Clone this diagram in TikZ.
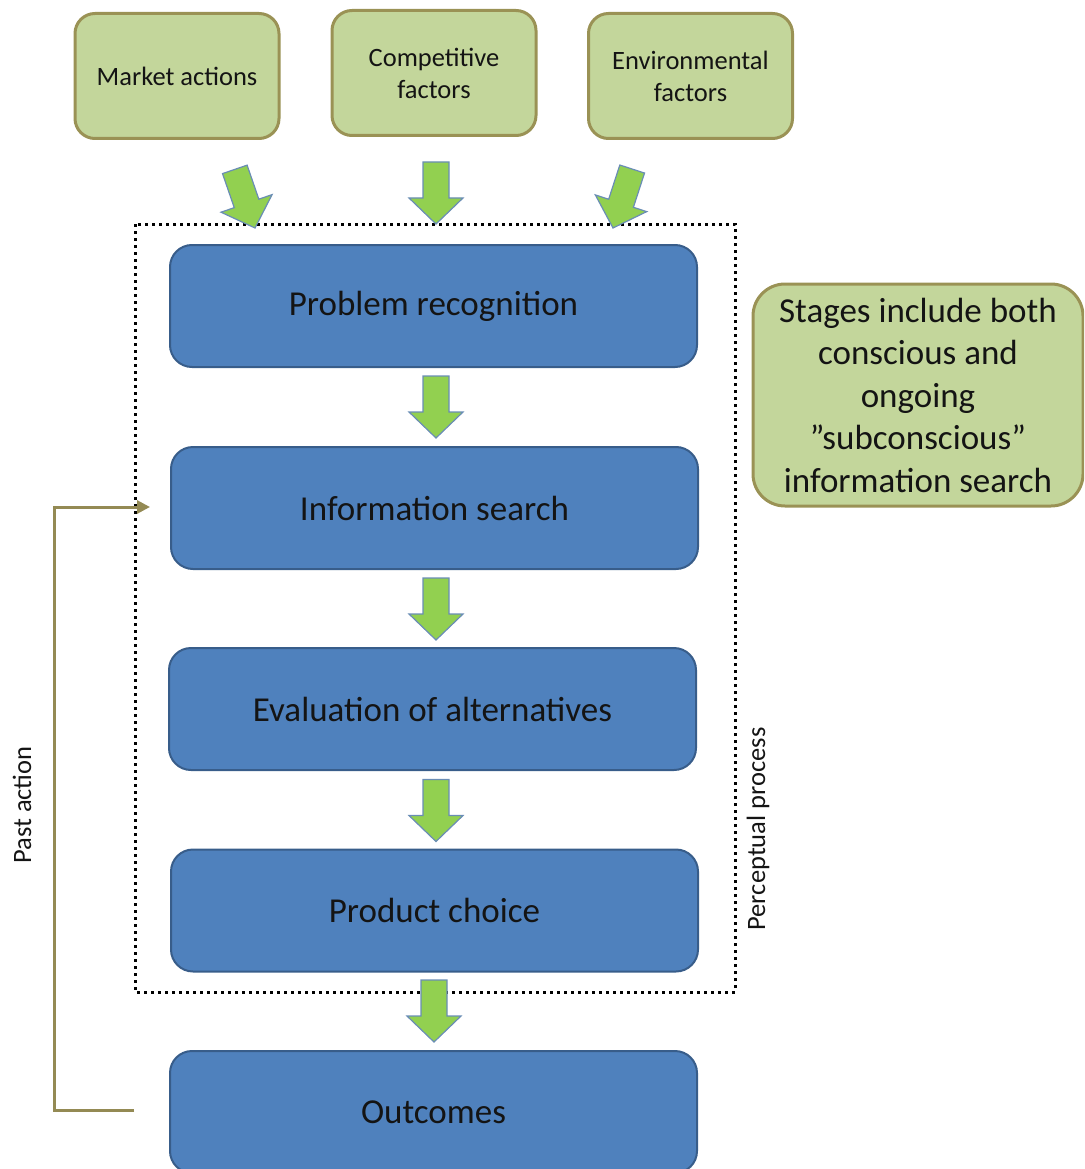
\documentclass[tikz,border=0pt]{standalone}
\usepackage{fontspec}
\setmainfont{Carlito}
\usetikzlibrary{arrows.meta,calc}
\definecolor{gfill}{HTML}{C3D69B}
\definecolor{gline}{HTML}{9A9255}
\definecolor{bfill}{HTML}{4F81BD}
\definecolor{bline}{HTML}{385D8A}
\definecolor{afill}{HTML}{92D050}
\definecolor{aline}{HTML}{6A8DB5}
\definecolor{fback}{HTML}{948A54}
\definecolor{txt}{HTML}{141414}
\tikzset{
  factor/.style={draw=gline, line width=3pt, fill=gfill, rounded corners=20pt,
    minimum width=204pt, minimum height=125pt, align=center, text=txt,
    font=\fontsize{26.5}{32}\selectfont, inner sep=0pt},
  stage/.style={draw=bline, line width=2pt, fill=bfill, rounded corners=22pt,
    minimum width=527pt, minimum height=122pt, text=txt,
    font=\fontsize{35}{40}\selectfont, inner sep=0pt},
  note/.style={draw=gline, line width=3pt, fill=gfill, rounded corners=32pt,
    minimum width=330pt, minimum height=222pt, align=center, text=txt,
    font=\fontsize{35}{42.5}\selectfont, inner sep=0pt},
  sidelabel/.style={rotate=90, text=txt, font=\fontsize{26.5}{30}\selectfont},
  blockarrow/.pic={\draw[draw=aline, line width=1.2pt, fill=afill, line join=miter]
    (0,0) -- (-27,-26) -- (-13,-26) -- (-13,-62) -- (13,-62) -- (13,-26) -- (27,-26) -- cycle;},
  feedback/.style={draw=fback, line width=3pt},
}
\begin{document}
\begin{tikzpicture}[x=1pt,y=-1pt]
\useasboundingbox (0,0) rectangle (1084,1169);
\begin{scope}
\clip (0,0) rectangle (1084,1169);
% top factors
\node[factor] (ma) at (177,76) {Market actions};
\node[factor] (cf) at (434,73) {Competitive\\factors};
\node[factor] (ef) at (690.5,76) {Environmental\\factors};
% stages
\node[stage] (s1) at (433.5,306) {Problem recognition};
\node[stage] (s2) at (434.5,508) {Information search};
\node[stage] (s3) at (432.5,709) {Evaluation of alternatives};
\node[stage] (s4) at (434.5,910.5) {Product choice};
\node[stage] (s5) at (433.5,1112) {Outcomes};
% note
\node[note] (nt) at (918,395) {Stages include both\\conscious and\\ongoing\\”subconscious”\\information search};
% dotted perceptual process frame
\draw[line width=3pt, dash pattern=on 3pt off 4pt] (135,224) rectangle (735,992);
\node[sidelabel] (pp) at (758,829) {Perceptual process};
\node[sidelabel] (pa) at (22,805) {Past action};
% block arrows
\pic[rotate=19] at (255,228) {blockarrow};
\pic at (436,224) {blockarrow};
\pic[rotate=-18] at (613,228) {blockarrow};
\pic at ($(s2.north)+(1.5,-8)$) {blockarrow};
\pic at ($(s3.north)+(3.5,-7)$) {blockarrow};
\pic at ($(s4.north)+(1.5,-7)$) {blockarrow};
\pic at ($(s5.north)+(0.5,-8)$) {blockarrow};
% feedback loop
\coordinate (fbstart) at ($(s5.west)+(-35,-2)$);
\coordinate (fbend) at ($(s2.west)+(-20,-1)$);
\draw[feedback, -{Triangle[length=13pt,width=13pt]}] (fbstart) -- (54,1110) -- (54,507) -- (fbend);
\end{scope}
\end{tikzpicture}
\end{document}
